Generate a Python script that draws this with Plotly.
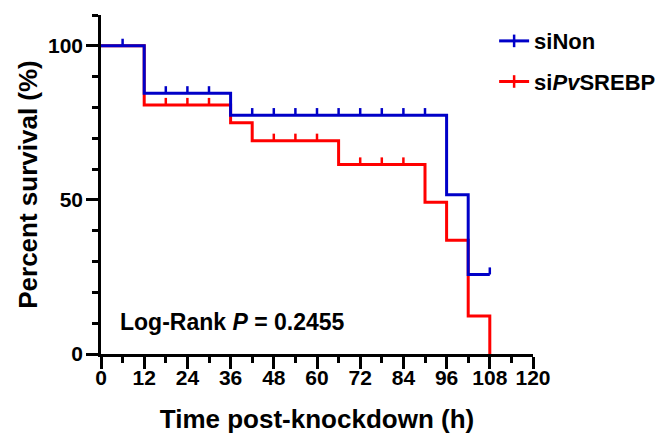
import plotly.graph_objects as go

# ---- data ----
non_t = [0, 12, 36, 96, 102, 108]
non_s = [100, 84.6, 77.5, 51.7, 25.8, 25.8]
non_cens_t = [6, 18, 24, 30, 42, 48, 54, 60, 66, 72, 78, 84, 90, 108]
non_cens_s = [100, 84.6, 84.6, 84.6, 77.5, 77.5, 77.5, 77.5, 77.5, 77.5, 77.5, 77.5, 77.5, 25.8]

sre_t = [0, 12, 36, 42, 66, 90, 96, 102, 108]
sre_s = [100, 80.8, 75.0, 69.2, 61.5, 49.2, 36.9, 12.3, 0]
sre_cens_t = [18, 24, 30, 48, 54, 60, 72, 78, 84]
sre_cens_s = [80.8, 80.8, 80.8, 69.2, 69.2, 69.2, 61.5, 61.5, 61.5]

x_ticks = [0, 12, 24, 36, 48, 60, 72, 84, 96, 108, 120]
y_ticks = [0, 50, 100]
y_minor = [10, 20, 30, 40, 60, 70, 80, 90, 110]

BLUE = "#0000C8"
RED = "#FF0000"
TICK_H = 2.3  # censor mark height in %
FONT = "Arial, Liberation Sans, sans-serif"


def censor_segments(ts, ss):
    xs, ys = [], []
    for t, s in zip(ts, ss):
        xs += [t, t, None]
        ys += [s, s + TICK_H, None]
    return xs, ys


fig = go.Figure()

for t, s, ct, cs, col in [
    (sre_t, sre_s, sre_cens_t, sre_cens_s, RED),
    (non_t, non_s, non_cens_t, non_cens_s, BLUE),
]:
    fig.add_trace(go.Scatter(x=t, y=s, mode="lines", line=dict(color=col, width=3, shape="hv"),
                             showlegend=False, hoverinfo="skip", cliponaxis=False))
    cx, cy = censor_segments(ct, cs)
    fig.add_trace(go.Scatter(x=cx, y=cy, mode="lines", line=dict(color=col, width=2.5),
                             showlegend=False, hoverinfo="skip", cliponaxis=False))

# legend entries
for col, name, rank in [(BLUE, "siNon", 1), (RED, "si<i>Pv</i>SREBP", 2)]:
    fig.add_trace(go.Scatter(x=[None], y=[None], mode="lines+markers", name="<b>" + name + "</b>",
                             line=dict(color=col, width=3),
                             marker=dict(symbol="line-ns-open", size=9, color=col,
                                         line=dict(color=col, width=2.5)),
                             legendgroup=str(rank), legendrank=rank))

axis_common = dict(showline=True, linecolor="black", linewidth=2.5, ticks="outside",
                   ticklen=12, tickwidth=2.5, tickcolor="black", showgrid=False, zeroline=False,
                   automargin=False,
                   tickfont=dict(family=FONT, size=21, color="black", weight="bold"))

# page body has an 8px margin, so the figure is sized/offset to compensate
fig.update_layout(
    width=655, height=427,
    margin=dict(l=93, r=130, t=7, b=81, autoexpand=False),
    plot_bgcolor="white", paper_bgcolor="white",
    xaxis=dict(range=[0, 120], tickvals=x_ticks, ticklabelstandoff=-9,
               minor=dict(dtick=6, tick0=0, ticklen=6, tickwidth=2.5, tickcolor="black", ticks="outside"),
               title=dict(text="<b>Time post-knockdown (h)</b>", font=dict(family=FONT, size=26, color="black"),
                          standoff=22),
               **axis_common),
    yaxis=dict(range=[0, 110], tickvals=y_ticks, ticklabelstandoff=-1,
               minor=dict(tickvals=y_minor, ticklen=6, tickwidth=2.5, tickcolor="black", ticks="outside"),
               title=dict(text="<b>Percent survival (%)</b>", font=dict(family=FONT, size=26, color="black"),
                          standoff=3),
               **axis_common),
    legend=dict(x=0.91, y=0.985, xanchor="left", yanchor="top", itemwidth=30,
                font=dict(family=FONT, size=22, color="black"), tracegroupgap=9,
                bgcolor="rgba(0,0,0,0)"),
    annotations=[dict(text="<b>Log-Rank <i>P</i> = 0.2455</b>", xref="paper", yref="paper",
                      x=0.039, y=0.093, xanchor="left", yanchor="middle", showarrow=False,
                      font=dict(family=FONT, size=23, color="black"))],
)

fig.write_html("out.html")
